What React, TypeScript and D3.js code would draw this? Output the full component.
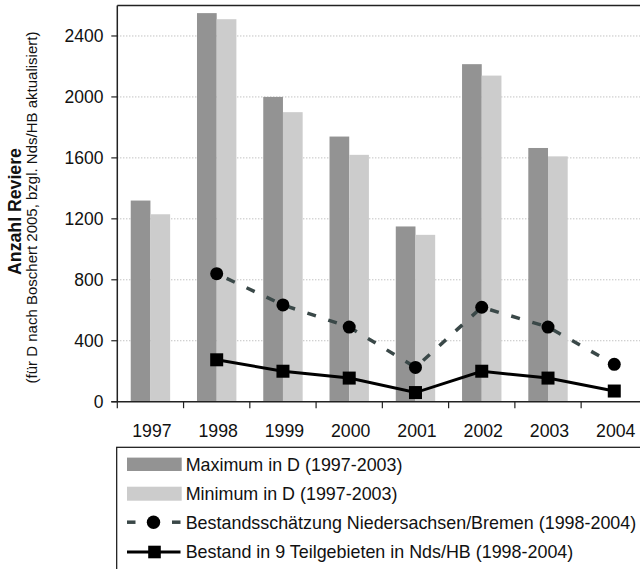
import React from "react";
import * as d3 from "d3";

const years = ["1997", "1998", "1999", "2000", "2001", "2002", "2003", "2004"];
const maxD = [1320, 2550, 2000, 1740, 1150, 2215, 1665, null];
const minD = [1230, 2510, 1900, 1620, 1095, 2140, 1610, null];
const schaetzung = [null, 840, 635, 490, 225, 620, 490, 245];
const bestand = [null, 275, 200, 155, 60, 200, 155, 70];
const yTicks = [0, 400, 800, 1200, 1600, 2000, 2400];
const legendLabels = [
  "Maximum in D (1997-2003)",
  "Minimum in D (1997-2003)",
  "Bestandsschätzung Niedersachsen/Bremen (1998-2004)",
  "Bestand in 9 Teilgebieten in Nds/HB (1998-2004)",
];

const W = 640;
const H = 569;
const FONT = "'Liberation Sans', Arial, Helvetica, sans-serif";
const DARK = "#939393";
const LIGHT = "#cccccc";
const DASHCOL = "#3a4848";

export default function App() {
  const left = 117.3;
  const right = 647.4;
  const top = 5.5;
  const bottom = 401.7;

  const x = d3.scaleBand<string>().domain(years).range([left, right]).padding(0);
  const y = d3.scaleLinear().domain([0, 2600]).range([bottom, top]);
  const sub = d3.scaleBand<string>().domain(["max", "min"]).range([0, 39.4]);
  const groupOff = (x.bandwidth() - 39.4) / 2;
  const cx = (yr: string) => (x(yr) as number) + x.bandwidth() / 2;

  const lineGen = d3
    .line<[string, number | null]>()
    .defined((d) => d[1] !== null)
    .x((d) => cx(d[0]))
    .y((d) => y(d[1] as number));

  const schPts = years.map((yr, i) => [yr, schaetzung[i]] as [string, number | null]);
  const bstPts = years.map((yr, i) => [yr, bestand[i]] as [string, number | null]);

  const legTop = 447.3;
  const rowY = [464.3, 493.7, 522.2, 552.0];

  return (
    <svg
      width={W}
      height={H}
      style={{ position: "absolute", left: 0, top: 0, background: "#fff" }}
      fontFamily={FONT}
    >
      {yTicks.filter((t) => t > 0).map((t) => (
        <line
          key={"g" + t}
          x1={left}
          x2={W}
          y1={y(t)}
          y2={y(t)}
          stroke="#a8a8a8"
          strokeWidth={1}
          strokeDasharray="1,2"
        />
      ))}

      {years.map((yr, i) => (
        <g key={"b" + yr}>
          {maxD[i] !== null && (
            <rect
              x={(x(yr) as number) + groupOff + (sub("max") as number)}
              y={y(maxD[i] as number)}
              width={sub.bandwidth()}
              height={bottom - y(maxD[i] as number)}
              fill={DARK}
            />
          )}
          {minD[i] !== null && (
            <rect
              x={(x(yr) as number) + groupOff + (sub("min") as number)}
              y={y(minD[i] as number)}
              width={sub.bandwidth()}
              height={bottom - y(minD[i] as number)}
              fill={LIGHT}
            />
          )}
        </g>
      ))}

      <line x1={left} x2={W} y1={top} y2={top} stroke="#222" strokeWidth={1.5} />
      <line x1={left} x2={left} y1={top} y2={bottom} stroke="#222" strokeWidth={1.5} />
      <line x1={left - 6} x2={W} y1={bottom} y2={bottom} stroke="#222" strokeWidth={1.5} />

      {yTicks.map((t) => (
        <g key={"yt" + t}>
          <line x1={left - 6} x2={left} y1={y(t)} y2={y(t)} stroke="#222" strokeWidth={1.2} />
          <text x={103.5} y={y(t) + 6.3} textAnchor="end" fontSize={17.5} fill="#111">
            {t}
          </text>
        </g>
      ))}

      {years.map((yr) => (
        <g key={"xt" + yr}>
          <line
            x1={x(yr) as number}
            x2={x(yr) as number}
            y1={bottom}
            y2={bottom + 6.5}
            stroke="#222"
            strokeWidth={1.2}
          />
          <text x={cx(yr) + 1.5} y={437} textAnchor="middle" fontSize={17.7} fill="#111">
            {yr}
          </text>
        </g>
      ))}

      <path
        d={lineGen(schPts) || ""}
        fill="none"
        stroke={DASHCOL}
        strokeWidth={3.5}
        strokeDasharray="9,13"
        strokeDashoffset={-11}
      />
      {schPts.filter((d) => d[1] !== null).map((d) => (
        <circle key={"c" + d[0]} cx={cx(d[0])} cy={y(d[1] as number)} r={6.5} fill="#000" />
      ))}

      <path d={lineGen(bstPts) || ""} fill="none" stroke="#000" strokeWidth={3} />
      {bstPts.filter((d) => d[1] !== null).map((d) => (
        <rect
          key={"s" + d[0]}
          x={cx(d[0]) - 6.5}
          y={y(d[1] as number) - 6.5}
          width={13}
          height={13}
          fill="#000"
        />
      ))}

      <text
        transform="translate(21,211.5) rotate(-90)"
        textAnchor="middle"
        fontSize={17.7}
        fontWeight="bold"
        fill="#111"
      >
        Anzahl Reviere
      </text>
      <text
        transform="translate(36.5,207.5) rotate(-90)"
        textAnchor="middle"
        fontSize={15}
        fill="#111"
      >
        (für D nach Boschert 2005, bzgl. Nds/HB aktualisiert)
      </text>

      <rect x={116.7} y={legTop} width={W} height={H} fill="#fff" stroke="#111" strokeWidth={1.2} />
      <rect x={127} y={rowY[0] - 6.7} width={54.7} height={13.4} fill={DARK} />
      <rect x={127} y={rowY[1] - 7} width={54.7} height={14} fill={LIGHT} />
      <line x1={127} x2={135.5} y1={rowY[2]} y2={rowY[2]} stroke={DASHCOL} strokeWidth={3.5} />
      <line x1={172} x2={180.5} y1={rowY[2]} y2={rowY[2]} stroke={DASHCOL} strokeWidth={3.5} />
      <circle cx={153.5} cy={rowY[2]} r={6.7} fill="#000" />
      <line x1={127} x2={180.5} y1={rowY[3]} y2={rowY[3]} stroke="#000" strokeWidth={3} />
      <rect x={148.2} y={rowY[3] - 6.3} width={12.6} height={12.6} fill="#000" />
      {legendLabels.map((l, i) => (
        <text key={"l" + i} x={185.7} y={rowY[i] + 6.4} fontSize={17.9} fill="#111">
          {l}
        </text>
      ))}
    </svg>
  );
}
